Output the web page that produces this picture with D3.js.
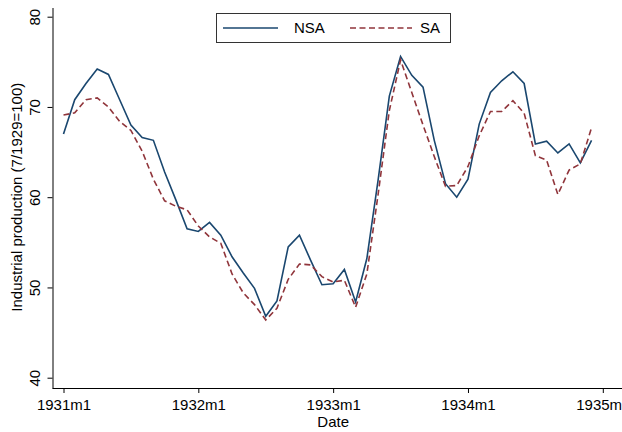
<!DOCTYPE html>
<html lang="en">
<head>
    <meta charset="UTF-8">
    <title>Industrial production NSA vs SA</title>
    <style>
        body { margin: 0; background: #fff; }
        text { font-family: "Liberation Sans", Arial, Helvetica, sans-serif; fill: #000; }
        .axis path, .axis line { stroke: #000; }
    </style>
</head>
<body>
    <div id="chart"></div>
    <script src="https://d3js.org/d3.v7.min.js"></script>
    <script>
        "use strict";

        // monthly, 1931m1 .. 1934m12
        var startYear = 1931;
        var nsa = [67.0, 70.8, 72.6, 74.2, 73.6, 70.8, 68.0, 66.6, 66.3, 62.8, 59.7, 56.5,
                   56.2, 57.2, 55.8, 53.4, 51.6, 49.9, 46.8, 48.5, 54.5, 55.8, 53.0, 50.3,
                   50.4, 52.0, 48.4, 53.2, 61.9, 71.2, 75.6, 73.5, 72.2, 66.3, 61.5, 60.0,
                   62.0, 68.1, 71.6, 72.9, 73.9, 72.6, 65.9, 66.2, 64.9, 65.9, 63.8, 66.3];
        var sa = [69.1, 69.35, 70.8, 71.0, 70.0, 68.4, 67.4, 65.1, 62.0, 59.6, 59.0, 58.6,
                  56.8, 55.6, 54.9, 51.5, 49.4, 48.1, 46.4, 47.7, 50.9, 52.6, 52.5, 51.2,
                  50.6, 50.8, 47.8, 51.5, 60.3, 69.6, 75.2, 71.6, 68.0, 64.5, 61.2, 61.3,
                  63.4, 66.8, 69.5, 69.5, 70.7, 69.3, 64.6, 64.1, 60.3, 63.0, 63.7, 67.7];
        var yTicks = [40, 50, 60, 70, 80];
        var xTicks = [0, 12, 24, 36, 48];   // months since 1931m1
        var seriesNames = ["NSA", "SA"];

        var width = 622, height = 432;
        var colors = { NSA: "#1a476f", SA: "#90353b" };

        var svg = d3.select("#chart").append("svg")
            .attr("width", width)
            .attr("height", height);

        var x = d3.scaleLinear().domain([0, 48]).range([63.5, 602.8]);
        var y = d3.scaleLinear().domain([40, 80]).range([377.7, 16.7]);

        // axes
        var xAxis = d3.axisBottom(x)
            .tickValues(xTicks)
            .tickSize(5)
            .tickSizeOuter(0)
            .tickFormat(function (d) { return (startYear + d / 12) + "m1"; });

        var gx = svg.append("g")
            .attr("class", "axis")
            .attr("transform", "translate(0,388)")
            .call(xAxis);
        gx.select(".domain").attr("d", "M52.5,0.5H" + width);
        gx.selectAll("text").style("font-size", "15px").attr("dy", "0.95em");

        var yAxis = d3.axisLeft(y)
            .tickValues(yTicks)
            .tickSize(5)
            .tickSizeOuter(0);

        var gy = svg.append("g")
            .attr("class", "axis")
            .attr("transform", "translate(52.5,0)")
            .call(yAxis);
        gy.select(".domain").attr("d", "M0.5,8V388.5");
        gy.selectAll(".tick text")
            .style("font-size", "15px")
            .attr("text-anchor", "middle")
            .attr("x", 0)
            .attr("dy", 0)
            .attr("transform", "translate(-13,0) rotate(-90)");

        // titles
        svg.append("text")
            .attr("x", x(24))
            .attr("y", 427)
            .attr("text-anchor", "middle")
            .style("font-size", "15px")
            .text("Date");

        svg.append("text")
            .attr("transform", "translate(22," + y(60) + ") rotate(-90)")
            .attr("text-anchor", "middle")
            .style("font-size", "15px")
            .text("Industrial production (7/1929=100)");

        // lines
        var line = d3.line()
            .x(function (d, i) { return x(i); })
            .y(function (d) { return y(d); });

        svg.append("path")
            .datum(nsa)
            .attr("fill", "none")
            .attr("stroke", colors.NSA)
            .attr("stroke-width", 1.6)
            .attr("d", line);

        svg.append("path")
            .datum(sa)
            .attr("fill", "none")
            .attr("stroke", colors.SA)
            .attr("stroke-width", 1.6)
            .attr("stroke-dasharray", "6,3.5")
            .attr("d", line);

        // legend
        var legend = svg.append("g");
        legend.append("rect")
            .attr("x", 216.5).attr("y", 13.5)
            .attr("width", 234).attr("height", 29)
            .attr("fill", "#fff")
            .attr("stroke", "#333")
            .attr("stroke-width", 1);

        var items = [
            { name: seriesNames[0], x0: 223, x1: 278, tx: 294, dash: null },
            { name: seriesNames[1], x0: 350, x1: 412, tx: 420, dash: "6,3.5" }
        ];
        items.forEach(function (it) {
            legend.append("line")
                .attr("x1", it.x0).attr("x2", it.x1)
                .attr("y1", 28).attr("y2", 28)
                .attr("stroke", colors[it.name])
                .attr("stroke-width", 1.6)
                .attr("stroke-dasharray", it.dash);
            legend.append("text")
                .attr("x", it.tx).attr("y", 28)
                .attr("dy", "0.36em")
                .style("font-size", "15px")
                .text(it.name);
        });
    </script>
</body>
</html>
